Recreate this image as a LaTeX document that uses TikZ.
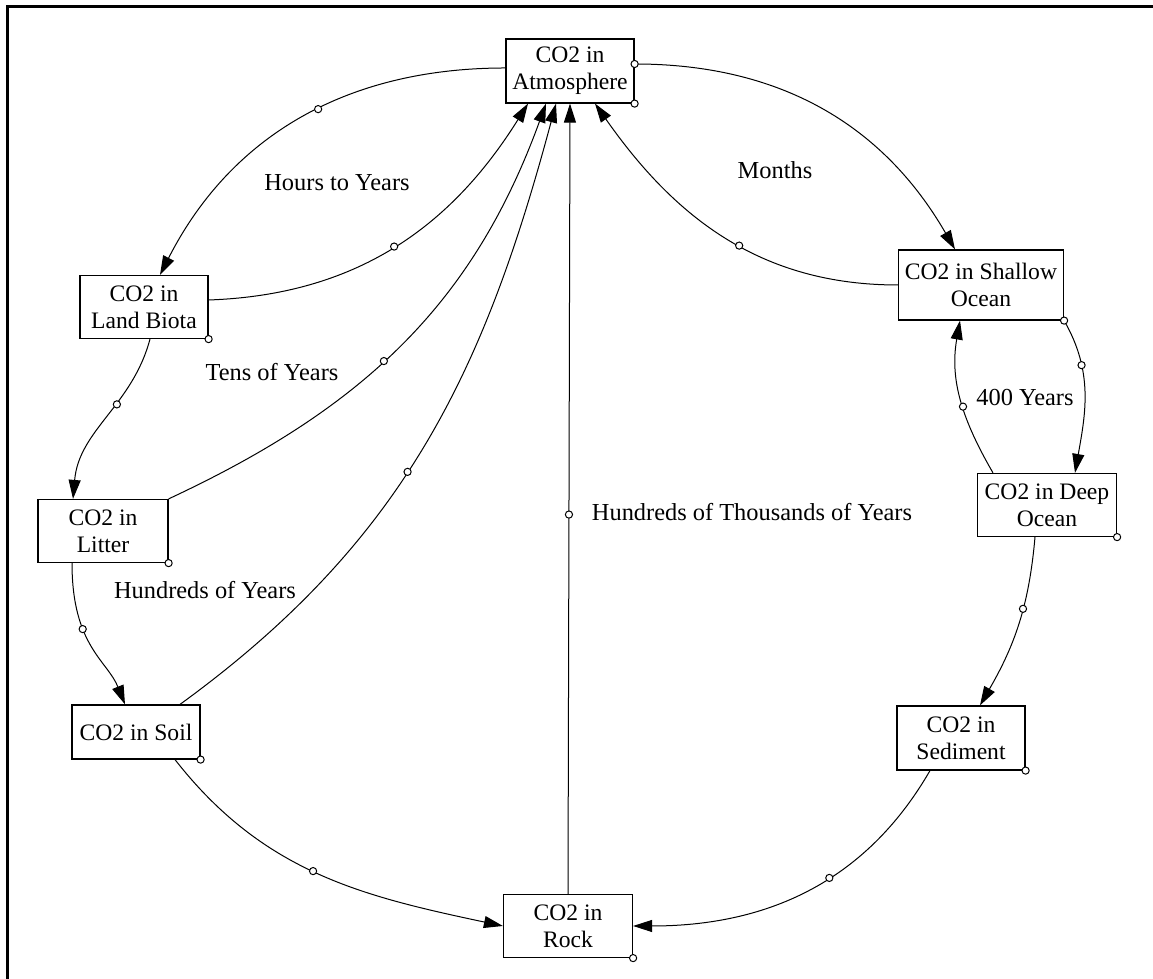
\documentclass[tikz,border=0pt]{standalone}
\usepackage{fontspec}
\setmainfont{Liberation Serif}
\usetikzlibrary{arrows.meta, calc}

\begin{document}
\begin{tikzpicture}[
      x=0.5pt, y=0.5pt,
      font=\fontsize{11.8}{13.5}\selectfont,
      stock/.style={rectangle, draw, line width=0.6pt, minimum width=64pt, minimum height=32pt, inner sep=2pt, align=center},
      flow/.style={-{Triangle[length=9.5pt, width=6pt]}, line width=0.5pt},
      flowdot/.style={circle, draw, line width=0.5pt, fill=white, inner sep=0pt, minimum size=3.6pt},
      lbl/.style={inner sep=0pt, font=\fontsize{12.2}{14}\selectfont}
    ]
    \useasboundingbox (0,0) rectangle (1153,979);
    \draw[line width=1.5pt] (7,0) -- (7,972) -- (1153,972);

    % reservoirs
    \node[stock] (atm) at (570,908) {CO2 in\\Atmosphere};
    \node[stock, minimum height=31.5pt] (land) at (144,672) {CO2 in\\Land Biota};
    \node[stock, minimum width=65pt, minimum height=31.5pt] (litter) at (103,448) {CO2 in\\Litter};
    \node[stock, minimum height=27pt] (soil) at (136,247) {CO2 in Soil};
    \node[stock, minimum width=64.5pt, minimum height=31.5pt] (rock) at (568,53) {CO2 in\\Rock};
    \node[stock] (sed) at (961,241) {CO2 in\\Sediment};
    \node[stock, minimum width=69.5pt, minimum height=31.5pt] (deep) at (1047,474) {CO2 in Deep\\Ocean};
    \node[stock, minimum width=82.5pt, minimum height=35pt] (shallow) at (981,694) {CO2 in Shallow\\Ocean};

    % land side
    \draw[flow] ([yshift=1.5pt]atm.west) to[out=180, in=63] node[flowdot, pos=0.45] (d1) {} ([xshift=8pt]land.north);
    \draw[flow] ([yshift=3.5pt]land.east) to[out=2, in=238] node[flowdot, pos=0.5] (d2) {} ([xshift=-21pt]atm.south);
    \draw[flow] (litter.north east) to[out=25, in=250] node[flowdot, pos=0.45] (d3) {} ([xshift=-12pt]atm.south);
    \draw[flow] ([xshift=22pt]soil.north) to[out=36, in=255] node[flowdot, pos=0.45] (d4) {} ([xshift=-7pt]atm.south);
    \draw[flow] (rock.north) -- node[flowdot, pos=0.48] (d5) {} (atm.south);
    \draw[flow] ([xshift=3pt]land.south) to[out=-105, in=85] node[flowdot, pos=0.4] (d6) {} ([xshift=-15pt]litter.north);
    \draw[flow] ([xshift=-15.5pt]litter.south) to[out=-90, in=112, out looseness=1.4, in looseness=0.8] node[flowdot, pos=0.35] (d7) {} ([xshift=-5.5pt]soil.north);
    \draw[flow] ([xshift=19.5pt]soil.south) to[out=-52, in=168] node[flowdot, pos=0.48] (d8) {} (rock.west);

    % ocean side
    \draw[flow] ([yshift=3.5pt]atm.east) to[out=0, in=120] ([xshift=-13pt]shallow.north);
    \draw[flow] (shallow.west) to[out=180, in=-55] node[flowdot, pos=0.45] (d9) {} ([xshift=12.5pt]atm.south);
    \draw[flow] (shallow.south east) to[out=-60, in=80] node[flowdot, pos=0.3] (d10) {} ([xshift=14pt]deep.north);
    \draw[flow] ([xshift=-27pt]deep.north) to[out=120, in=-100] node[flowdot, pos=0.45] (d11) {} ([xshift=-10.5pt]shallow.south);
    \draw[flow] ([xshift=-6pt]deep.south) to[out=-95, in=60] node[flowdot, pos=0.4] (d12) {} ([xshift=9.5pt]sed.north);
    \draw[flow] ([xshift=-15.5pt]sed.south) to[out=-120, in=0] node[flowdot, pos=0.42] (d13) {} (rock.east);

    % corner markers
    \node[flowdot] (atmtop) at ([yshift=3.5pt]atm.east) {};
    \node[flowdot] (atmcorner) at (atm.south east) {};
    \node[flowdot] (landcorner) at (land.south east) {};
    \node[flowdot] (littercorner) at (litter.south east) {};
    \node[flowdot] (soilcorner) at (soil.south east) {};
    \node[flowdot] (rockcorner) at (rock.south east) {};
    \node[flowdot] (sedcorner) at (sed.south east) {};
    \node[flowdot] (deepcorner) at (deep.south east) {};
    \node[flowdot] (shallowcorner) at (shallow.south east) {};

    % time scales
    \node[lbl] (hours) at (337,796) {Hours to Years};
    \node[lbl] (tens) at (272,607) {Tens of Years};
    \node[lbl] (hundreds) at (205,389) {Hundreds of Years};
    \node[lbl] (thousands) at (752,467) {Hundreds of Thousands of Years};
    \node[lbl] (months) at (775,809) {Months};
    \node[lbl] (fourhundred) at (1025,581) {400 Years};
  \end{tikzpicture}
\end{document}
